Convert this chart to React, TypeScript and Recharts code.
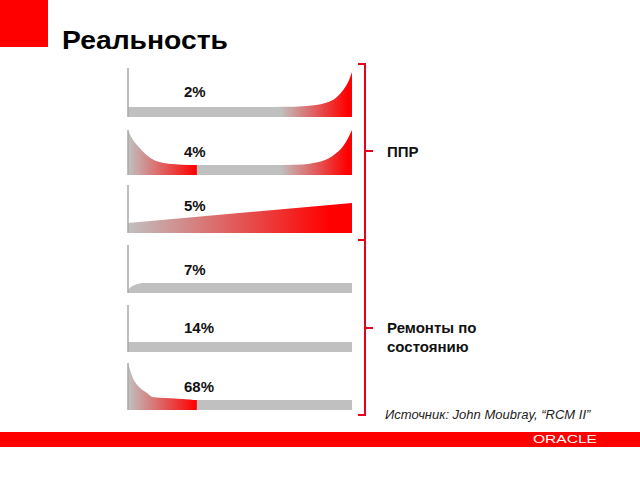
import React from 'react';
import { AreaChart, Area, XAxis, YAxis, ReferenceLine } from 'recharts';

// Failure patterns (Moubray, RCM II): conditional probability of failure vs age
const patternLabels = ['2%', '4%', '5%', '7%', '14%', '68%'];

// Pattern A – wear-out
const xA = [0, 60, 70, 78, 84, 88, 91, 93, 95, 97, 98.5, 100];
const yA = [1, 1, 1.02, 1.08, 1.2, 1.4, 1.65, 1.95, 2.4, 3.0, 3.6, 4.5];
// Pattern B – bathtub
const xB = [0, 2, 4, 6, 10, 14, 18, 24, 31, 60, 70, 78, 84, 88, 91, 93, 95, 97, 98.5, 100];
const yB = [4.5, 3.6, 3.0, 2.5, 1.7, 1.3, 1.12, 1.03, 1.0, 1.0, 1.0, 1.05, 1.25, 1.5, 1.85, 2.2, 2.6, 3.2, 3.8, 4.5];
// Pattern C – slowly increasing
const xC = [0, 100];
const yC = [1.0, 3.0];
// Pattern D – low at start, then constant
const xD = [0, 1, 2.5, 4, 5.5, 7, 100];
const yD = [0.3, 0.55, 0.75, 0.88, 0.96, 1.0, 1.0];
// Pattern E – random (constant)
const xE = [0, 100];
const yE = [1, 1];
// Pattern F – infant mortality
const xF = [0, 2, 5.4, 8.5, 11, 17, 24, 31, 100];
const yF = [4.7, 3.3, 2.2, 1.7, 1.3, 1.2, 1.1, 1.0, 1.0];

// height reached by the left vertical axis line of each panel
const axisTops = [4.9, 4.5, 4.8, 4.8, 4.7, 4.7];

const zip = (xs: number[], ys: number[]) => xs.map((x, i) => ({ x, y: ys[i] }));
const series = [zip(xA, yA), zip(xB, yB), zip(xC, yC), zip(xD, yD), zip(xE, yE), zip(xF, yF)];

const GRAY = '#c0c0c0';
const RED = '#ff0000';

const gradientStops: [number, string][][] = [
  [[0, GRAY], [0.68, GRAY], [0.98, RED], [1, RED]],
  [[0, GRAY], [0.305, RED], [0.31, GRAY], [0.68, GRAY], [0.98, RED], [1, RED]],
  [[0, GRAY], [0.9, RED], [1, RED]],
  [[0, GRAY], [1, GRAY]],
  [[0, GRAY], [1, GRAY]],
  [[0, GRAY], [0.305, RED], [0.31, GRAY], [1, GRAY]],
];

const panelBottoms = [117, 175, 233, 293, 352, 410];
const labelBaselines = [97, 157, 211, 275, 333, 392];

const FONT = '"Liberation Sans", Arial, Helvetica, sans-serif';

function Panel({ idx }: { idx: number }) {
  const id = `grad${idx}`;
  return (
    <div style={{ position: 'absolute', left: 127, top: panelBottoms[idx] - 50 }}>
      <AreaChart width={225} height={50} data={series[idx]} margin={{ top: 0, right: 0, bottom: 0, left: 1 }}>
        <defs>
          <linearGradient id={id} x1="0" y1="0" x2="1" y2="0">
            {gradientStops[idx].map(([o, c], i) => (
              <stop key={i} offset={o} stopColor={c} />
            ))}
          </linearGradient>
        </defs>
        <XAxis dataKey="x" type="number" domain={[0, 100]} hide />
        <YAxis type="number" domain={[0, 5]} hide />
        <Area
          type="monotone"
          dataKey="y"
          stroke="none"
          fill={`url(#${id})`}
          fillOpacity={1}
          isAnimationActive={false}
          dot={false}
          activeDot={false}
        />
        <ReferenceLine
          segment={[{ x: 0, y: 0 }, { x: 0, y: axisTops[idx] }]}
          stroke="#a8a8a8"
          strokeWidth={1.5}
        />
      </AreaChart>
    </div>
  );
}

export default function App() {
  return (
    <div style={{ position: 'absolute', left: 0, top: 0, width: 640, height: 480, background: '#fff', overflow: 'hidden' }}>
      <svg width={640} height={480} style={{ position: 'absolute', left: 0, top: 0 }}>
        <rect x={0} y={0} width={48} height={47} fill="#ff0000" />
        <text x={62} y={48.5} fontFamily={FONT} fontWeight="bold" fontSize={26} fill="#000" textLength={166} lengthAdjust="spacingAndGlyphs">
          Реальность
        </text>
        {patternLabels.map((l, i) => (
          <text key={l} x={184} y={labelBaselines[i]} fontFamily={FONT} fontWeight="bold" fontSize={15} fill="#111">
            {l}
          </text>
        ))}
        <path d="M358 64 H365 V415 H358 M358 240 H365 M365 151 H373 M365 328 H373" fill="none" stroke="#e8001c" strokeWidth={2} />
        <text x={387} y={157} fontFamily={FONT} fontWeight="bold" fontSize={15} fill="#111">ППР</text>
        <text x={387} y={333} fontFamily={FONT} fontWeight="bold" fontSize={15} fill="#111">Ремонты по</text>
        <text x={387} y={352} fontFamily={FONT} fontWeight="bold" fontSize={15} fill="#111">состоянию</text>
        <text x={385} y={419} fontFamily={FONT} fontStyle="italic" fontSize={13} fill="#222">
          Источник: John Moubray, “RCM II”
        </text>
        <rect x={0} y={432} width={640} height={15} fill="#ff0000" />
        <text x={533} y={443} fontFamily={FONT} fontSize={10} fill="#fff" textLength={64} lengthAdjust="spacingAndGlyphs">
          ORACLE
        </text>
      </svg>
      {series.map((_, i) => (
        <Panel key={i} idx={i} />
      ))}
    </div>
  );
}
